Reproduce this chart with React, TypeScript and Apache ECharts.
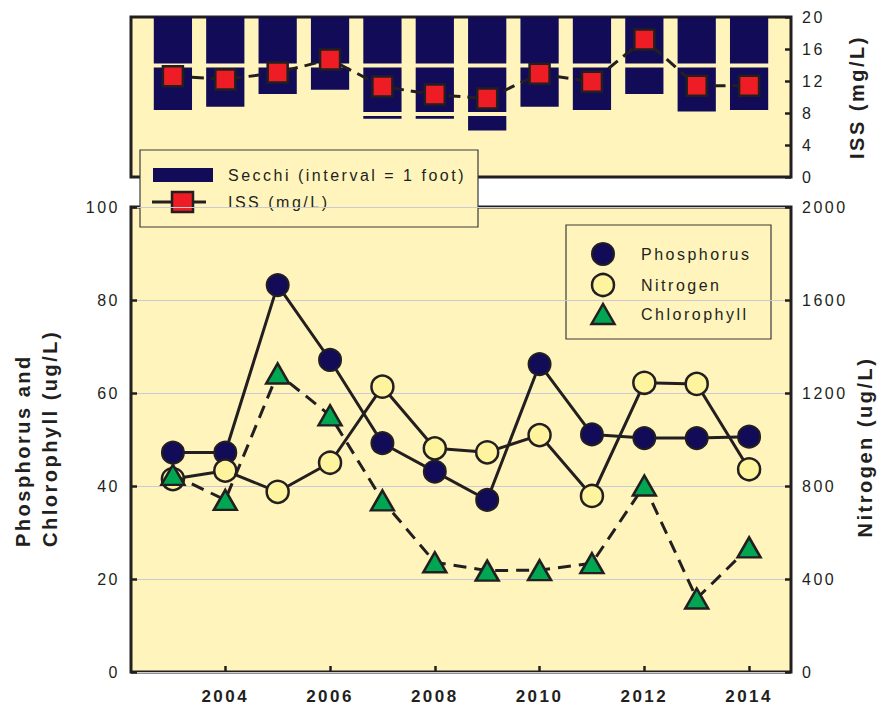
import React, { useEffect, useRef } from "react";
import * as echarts from "echarts";

const years = [2003, 2004, 2005, 2006, 2007, 2008, 2009, 2010, 2011, 2012, 2013, 2014];
const secchiFeet = [1.92, 1.85, 1.59, 1.5, 2.1, 2.1, 2.34, 1.85, 1.92, 1.59, 1.95, 1.92];
const issMgL = [12.6, 12.2, 13.05, 14.7, 11.3, 10.3, 9.8, 12.9, 11.9, 17.2, 11.4, 11.4];
const phosphorus = [47.2, 47.2, 83.2, 67.1, 49.2, 43.1, 37.0, 66.2, 51.1, 50.3, 50.3, 50.6];
const nitrogen = [830, 866, 775, 900, 1227, 962, 945, 1019, 757, 1244, 1239, 872];
const chlorophyll = [42.4, 37.0, 64.2, 55.2, 36.9, 23.6, 21.8, 21.9, 23.4, 40.1, 15.8, 26.8];

const CREAM = "#FFF5BC";
const NAVY = "#120B57";
const RED = "#EE1C25";
const GREEN = "#00A651";
const YELLOW = "#FFF49E";
const INK = "#231F20";
const FONT = "'Liberation Sans', Arial, sans-serif";

export default function App() {
  const ref = useRef<HTMLDivElement>(null);
  useEffect(() => {
    if (!ref.current) return;
    const chart = echarts.init(ref.current, undefined, { renderer: "svg" });
    const xBase = {
      type: "value",
      min: 2002.2,
      max: 2014.8,
      minInterval: 2,
      maxInterval: 2,
      splitNumber: 6,
      axisLine: { show: false },
      splitLine: { show: false },
    };
    const yearLabel = (v: number) => (Number.isInteger(v) && v % 2 === 0 ? String(v) : "");
    const plain = (v: number) => String(v);
    const option: any = {
      animation: false,
      backgroundColor: "#ffffff",
      textStyle: { fontFamily: FONT },
      grid: [
        { left: 131, right: 98, top: 17, height: 160, show: true, backgroundColor: CREAM, borderColor: INK, borderWidth: 3 },
        { left: 131, right: 98, top: 207, height: 465, show: true, backgroundColor: CREAM, borderColor: INK, borderWidth: 3 },
      ],
      xAxis: [
        { ...xBase, gridIndex: 0, axisTick: { show: false }, axisLabel: { show: false } },
        {
          ...xBase,
          gridIndex: 1,
          axisTick: { show: true, inside: true, length: 6, lineStyle: { color: INK, width: 2.5 } },
          axisLabel: { formatter: yearLabel, showMinLabel: false, showMaxLabel: false, margin: 16, color: INK, fontSize: 17, fontWeight: "bold", fontFamily: FONT },
        },
      ],
      yAxis: [
        {
          type: "value", gridIndex: 0, position: "right", min: 0, max: 20, interval: 4,
          axisLine: { show: false }, splitLine: { show: false },
          axisTick: { show: true, inside: true, length: 6, lineStyle: { color: INK, width: 2.5 } },
          axisLabel: { margin: 11, color: INK, fontSize: 16, fontFamily: FONT, formatter: plain },
        },
        { type: "value", gridIndex: 0, inverse: true, min: 0, max: 3.3, show: false },
        {
          type: "value", gridIndex: 1, position: "left", min: 0, max: 100, interval: 20,
          axisLine: { show: false },
          splitLine: { show: true, lineStyle: { color: "#C9CAD4", width: 1 } },
          axisTick: { show: true, inside: true, length: 6, lineStyle: { color: INK, width: 2.5 } },
          axisLabel: { margin: 11, color: INK, fontSize: 16, fontFamily: FONT, formatter: plain },
        },
        {
          type: "value", gridIndex: 1, position: "right", min: 0, max: 2000, interval: 400,
          axisLine: { show: false }, splitLine: { show: false },
          axisTick: { show: true, inside: true, length: 6, lineStyle: { color: INK, width: 2.5 } },
          axisLabel: { margin: 11, color: INK, fontSize: 16, fontFamily: FONT, formatter: plain },
        },
      ],
      series: [
        {
          name: "Secchi (interval = 1 foot)",
          type: "custom",
          xAxisIndex: 0,
          yAxisIndex: 1,
          data: years.map((y, i) => [y, secchiFeet[i]]),
          renderItem: (params: any, api: any) => {
            const x = api.value(0);
            const d = api.value(1);
            const w = api.size([1, 0])[0] * 0.73;
            const cx = api.coord([x, 0])[0];
            const children: any[] = [];
            for (let k = 0; k < d; k++) {
              const bot = Math.min(k + 1, d);
              const y1 = api.coord([x, k])[1] + (k > 0 ? 2 : 0);
              const y2 = api.coord([x, bot])[1] - (bot < d ? 2 : 0);
              children.push({
                type: "rect",
                shape: { x: cx - w / 2, y: y1, width: w, height: Math.max(0, y2 - y1) },
                style: { fill: NAVY },
              });
            }
            return { type: "group", children };
          },
          z: 2,
        },
        {
          name: "ISS (mg/L)",
          type: "line",
          xAxisIndex: 0,
          yAxisIndex: 0,
          data: years.map((y, i) => [y, issMgL[i]]),
          symbol: "rect",
          symbolSize: 20,
          itemStyle: { color: RED, borderColor: INK, borderWidth: 2.5 },
          lineStyle: { color: INK, width: 3, type: [12, 7] },
          z: 3,
        },
        {
          name: "Phosphorus",
          type: "line",
          xAxisIndex: 1,
          yAxisIndex: 2,
          data: years.map((y, i) => [y, phosphorus[i]]),
          symbol: "circle",
          symbolSize: 22,
          itemStyle: { color: NAVY, borderColor: INK, borderWidth: 2 },
          lineStyle: { color: INK, width: 3 },
          z: 3,
        },
        {
          name: "Nitrogen",
          type: "line",
          xAxisIndex: 1,
          yAxisIndex: 3,
          data: years.map((y, i) => [y, nitrogen[i]]),
          symbol: "circle",
          symbolSize: 22,
          itemStyle: { color: YELLOW, borderColor: INK, borderWidth: 2.5 },
          lineStyle: { color: INK, width: 3 },
          z: 4,
        },
        {
          name: "Chlorophyll",
          type: "line",
          xAxisIndex: 1,
          yAxisIndex: 2,
          data: years.map((y, i) => [y, chlorophyll[i]]),
          symbol: "triangle",
          symbolSize: [23, 20],
          itemStyle: { color: GREEN, borderColor: INK, borderWidth: 2.5 },
          lineStyle: { color: INK, width: 3, type: [13, 8] },
          z: 5,
        },
      ],
      graphic: [
        // axis titles
        { type: "text", x: 857, y: 97, rotation: Math.PI / 2, z: 50, style: { text: "ISS (mg/L)", fill: INK, font: `bold 20px ${FONT}`, textAlign: "center", textVerticalAlign: "middle" } },
        { type: "text", x: 865, y: 447, rotation: Math.PI / 2, z: 50, style: { text: "Nitrogen (ug/L)", fill: INK, font: `bold 20px ${FONT}`, textAlign: "center", textVerticalAlign: "middle" } },
        { type: "text", x: 23, y: 547, rotation: Math.PI / 2, z: 50, style: { text: "Phosphorus and", fill: INK, font: `bold 20px ${FONT}`, textAlign: "left", textVerticalAlign: "middle" } },
        { type: "text", x: 50, y: 547, rotation: Math.PI / 2, z: 50, style: { text: "Chlorophyll (ug/L)", fill: INK, font: `bold 20px ${FONT}`, textAlign: "left", textVerticalAlign: "middle" } },
        // top legend
        {
          type: "group", z: 100,
          children: [
            { type: "rect", shape: { x: 140, y: 150, width: 338, height: 77 }, style: { fill: CREAM, stroke: "#3A3A3A", lineWidth: 1.2 } },
            { type: "rect", shape: { x: 153, y: 168, width: 60, height: 14 }, style: { fill: NAVY } },
            { type: "text", x: 228, y: 175, style: { text: "Secchi (interval = 1 foot)", fill: INK, font: `16px ${FONT}`, textVerticalAlign: "middle" } },
            { type: "line", shape: { x1: 152, y1: 202, x2: 206, y2: 202 }, style: { stroke: INK, lineWidth: 3 } },
            { type: "rect", shape: { x: 172, y: 192, width: 21, height: 20 }, style: { fill: RED, stroke: INK, lineWidth: 2.5 } },
            { type: "text", x: 228, y: 202, style: { text: "ISS (mg/L)", fill: INK, font: `16px ${FONT}`, textVerticalAlign: "middle" } },
          ],
        },
        // bottom legend
        {
          type: "group", z: 100,
          children: [
            { type: "rect", shape: { x: 566, y: 225, width: 205, height: 114 }, style: { fill: CREAM, stroke: "#3A3A3A", lineWidth: 1.2 } },
            { type: "circle", shape: { cx: 603, cy: 254, r: 11 }, style: { fill: NAVY, stroke: INK, lineWidth: 2 } },
            { type: "text", x: 641, y: 254, style: { text: "Phosphorus", fill: INK, font: `16px ${FONT}`, textVerticalAlign: "middle" } },
            { type: "circle", shape: { cx: 603, cy: 285, r: 11 }, style: { fill: YELLOW, stroke: INK, lineWidth: 2.5 } },
            { type: "text", x: 641, y: 285, style: { text: "Nitrogen", fill: INK, font: `16px ${FONT}`, textVerticalAlign: "middle" } },
            { type: "polygon", shape: { points: [[591.5, 324], [614.5, 324], [603, 304]] }, style: { fill: GREEN, stroke: INK, lineWidth: 2.5 } },
            { type: "text", x: 641, y: 314, style: { text: "Chlorophyll", fill: INK, font: `16px ${FONT}`, textVerticalAlign: "middle" } },
          ],
        },
      ],
    };
    chart.setOption(option);
    return () => chart.dispose();
  }, []);
  return (
    <>
      <style>{`body{margin:0;} #chartbox text{letter-spacing:2.5px;}`}</style>
      <div id="chartbox" ref={ref} style={{ width: 889, height: 708 }} />
    </>
  );
}
